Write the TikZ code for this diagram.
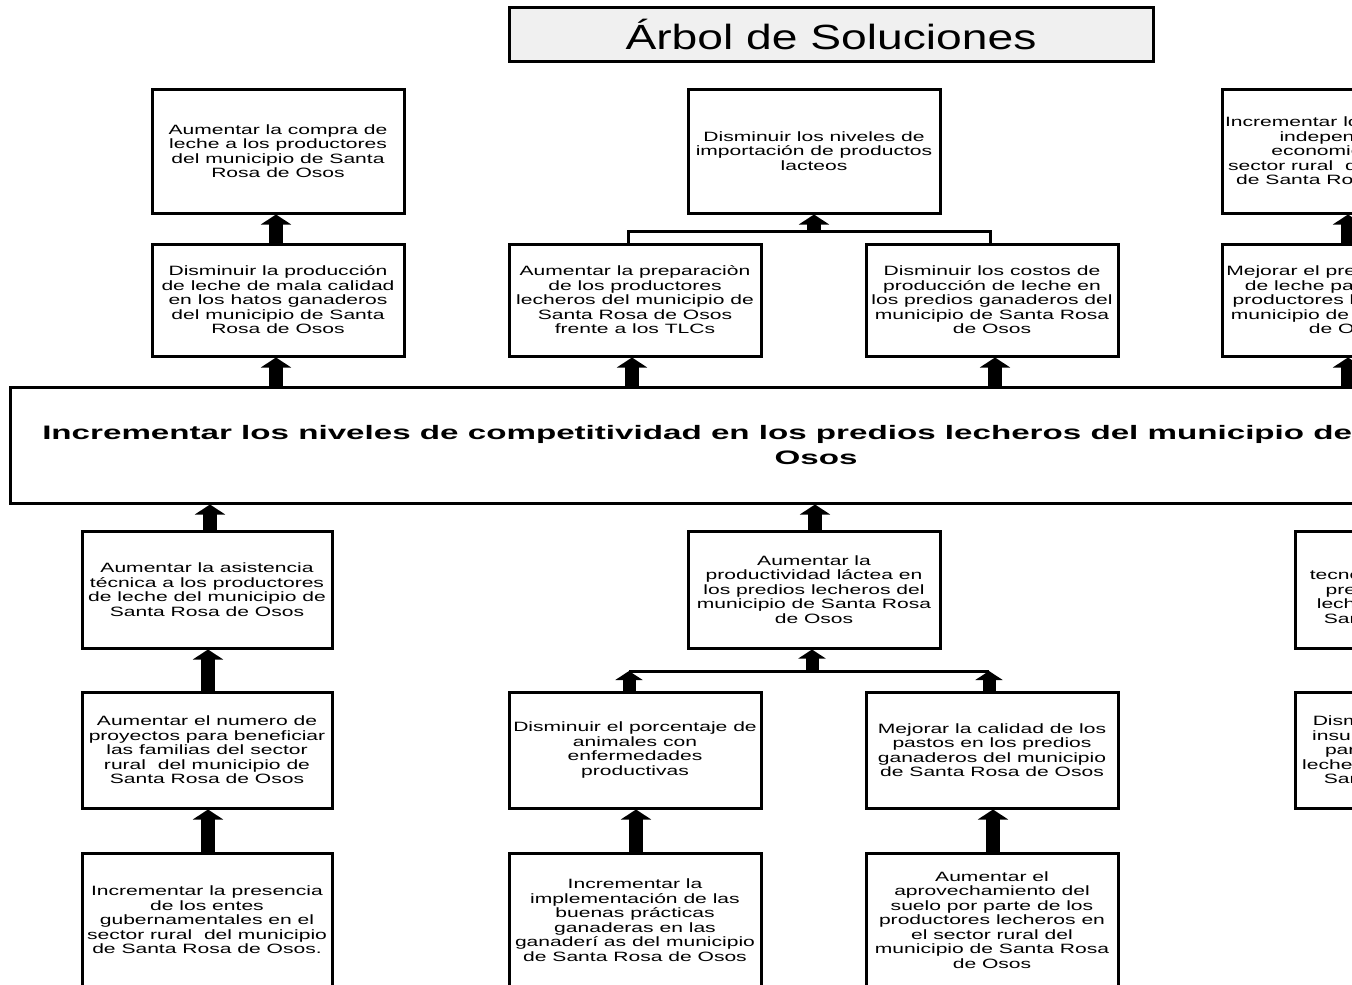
\documentclass[tikz,border=0pt]{standalone}
\usepackage{fontspec}
\setmainfont{Liberation Sans}[FakeStretch=1.56]
\newfontfamily\titlefont{Liberation Sans}[FakeStretch=1.32]
\newfontfamily\centralfont{Liberation Sans}[FakeStretch=1.7]
\usetikzlibrary{arrows.meta}
\begin{document}
\begin{tikzpicture}[x=1pt,y=-1pt,
  box/.style={draw=black, line width=3pt, fill=white, minimum width=252pt,
    align=center, inner sep=0pt, font=\fontsize{13.5}{14.5}\selectfont},
  bigarrow/.style={line width=14pt, -{Triangle[width=30pt,length=10pt]}},
  smallarrow/.style={line width=13pt, -{Triangle[width=27pt,length=9pt]}},
  link/.style={line width=3pt}]
\useasboundingbox (0,0) rectangle (1352,985);
\clip (0,0) rectangle (1352,985);
\fill[white] (0,0) rectangle (1352,985);

% title
\node[draw=black, line width=3pt, fill=black!6, minimum width=644pt, minimum height=54pt,
  inner sep=0pt, font=\titlefont\fontsize{35}{40}\selectfont] (title) at (831,34) {Árbol de Soluciones};

% row 1
\node[box, minimum height=124pt] (A1) at (278,151) {Aumentar la compra de\\leche a los productores\\del municipio de Santa\\Rosa de Osos};
\node[box, minimum height=124pt] (A2) at (814,151) {Disminuir los niveles de\\importación de productos\\lacteos};
\node[box, minimum height=124pt] (A3) at (1348,151) {Incrementar los niveles de\\independencia\\economica en el\\sector rural\ \ del municipio\\de Santa Rosa de Osos};

% row 2
\node[box, minimum height=112pt] (B1) at (278,300) {Disminuir la producción\\de leche de mala calidad\\en los hatos ganaderos\\del municipio de Santa\\Rosa de Osos};
\node[box, minimum height=112pt] (B2) at (635,300) {Aumentar la preparaciòn\\de los productores\\lecheros del municipio de\\Santa Rosa de Osos\\frente a los TLCs};
\node[box, minimum height=112pt] (B3) at (992,300) {Disminuir los costos de\\producción de leche en\\los predios ganaderos del\\municipio de Santa Rosa\\de Osos};
\node[box, minimum height=112pt] (B4) at (1348,300) {Mejorar el precio de venta\\de leche pagado a los\\productores lecheros del\\municipio de Santa Rosa\\de Osos};

% central
\node[draw=black, line width=3pt, fill=white, minimum width=1612pt, minimum height=116pt,
  align=center, inner sep=0pt, font=\centralfont\bfseries\fontsize{19.5}{25}\selectfont] (central) at (816,445)
  {Incrementar los niveles de competitividad en los predios lecheros del municipio de Santa Rosa de\\Osos};

% row 3
\node[box, minimum width=250pt, minimum height=117pt] (C1) at (207,589.5) {Aumentar la asistencia\\técnica a los productores\\de leche del municipio de\\Santa Rosa de Osos};
\node[box, minimum height=117pt] (C2) at (814,589.5) {Aumentar la\\productividad láctea en\\los predios lecheros del\\municipio de Santa Rosa\\de Osos};
\node[box, minimum height=117pt] (C3) at (1421,589.5) {Aumentar la\\tecnología usada en los\\predios ganaderos y\\lecheros del municipio\\Santa Rosa de Osos};

% row 4
\node[box, minimum width=250pt, minimum height=116pt] (D1) at (207,750) {Aumentar el numero de\\proyectos para beneficiar\\las familias del sector\\rural\ \ del municipio de\\Santa Rosa de Osos};
\node[box, minimum height=116pt] (D2) at (635,750) {Disminuir el porcentaje de\\animales con\\enfermedades\\productivas};
\node[box, minimum height=116pt] (D3) at (992,750) {Mejorar la calidad de los\\pastos en los predios\\ganaderos del municipio\\de Santa Rosa de Osos};
\node[box, minimum height=116pt] (D4) at (1421,750) {Disminuir los costos de\\insumos agropecuarios\\para los productores\\lecheros del municipio de\\Santa Rosa de Osos};

% row 5
\node[box, minimum width=250pt, minimum height=134pt] (E1) at (207,920) {Incrementar la presencia\\de los entes\\gubernamentales en el\\sector rural\ \ del municipio\\de Santa Rosa de Osos.};
\node[box, minimum height=134pt] (E2) at (635,920) {Incrementar la\\implementación de las\\buenas prácticas\\ganaderas en las\\ganaderí as del municipio\\de Santa Rosa de Osos};
\node[box, minimum height=134pt] (E3) at (992,920) {Aumentar el\\aprovechamiento del\\suelo por parte de los\\productores lecheros en\\el sector rural del\\municipio de Santa Rosa\\de Osos};

% arrows upper part
\draw[bigarrow] ([xshift=-2pt]B1.north) -- ([xshift=-2pt]A1.south);
\draw[bigarrow] ([xshift=-2pt]B1.south |- central.north) -- ([xshift=-2pt]B1.south);
\draw[bigarrow] ([xshift=-3pt]B2.south |- central.north) -- ([xshift=-3pt]B2.south);
\draw[bigarrow] ([xshift=3pt]B3.south |- central.north) -- ([xshift=3pt]B3.south);
\draw[bigarrow] (B4.south |- central.north) -- (B4.south);
\draw[bigarrow] (B4.north) -- (A3.south);

\coordinate (jt) at (814,231);
\draw[link] ([xshift=-7pt]B2.north) |- (jt) -| ([xshift=-2pt]B3.north);
\draw[bigarrow] (jt) -- (A2.south);

% arrows lower part
\draw[bigarrow] ([xshift=3pt]C1.north) -- ([xshift=3pt]C1.north |- central.south);
\draw[bigarrow] ([xshift=1pt]C2.north) -- ([xshift=1pt]C2.north |- central.south);
\draw[bigarrow] ([xshift=1pt]D1.north) -- ([xshift=1pt]C1.south);
\draw[bigarrow] ([xshift=1pt]E1.north) -- ([xshift=1pt]D1.south);
\draw[bigarrow] ([xshift=1pt]E2.north) -- ([xshift=1pt]D2.south);
\draw[bigarrow] ([xshift=1pt]E3.north) -- ([xshift=1pt]D3.south);

\coordinate (jb) at (812,671);
\draw[link] ([xshift=-6pt]D2.north |- jb) -- ([xshift=-3pt]D3.north |- jb);
\draw[smallarrow] ([xshift=-6pt]D2.north) -- ([xshift=-6pt]D2.north |- jb);
\draw[smallarrow] ([xshift=-3pt]D3.north) -- ([xshift=-3pt]D3.north |- jb);
\draw[smallarrow] (jb) -- (jb |- C2.south);
\end{tikzpicture}
\end{document}
